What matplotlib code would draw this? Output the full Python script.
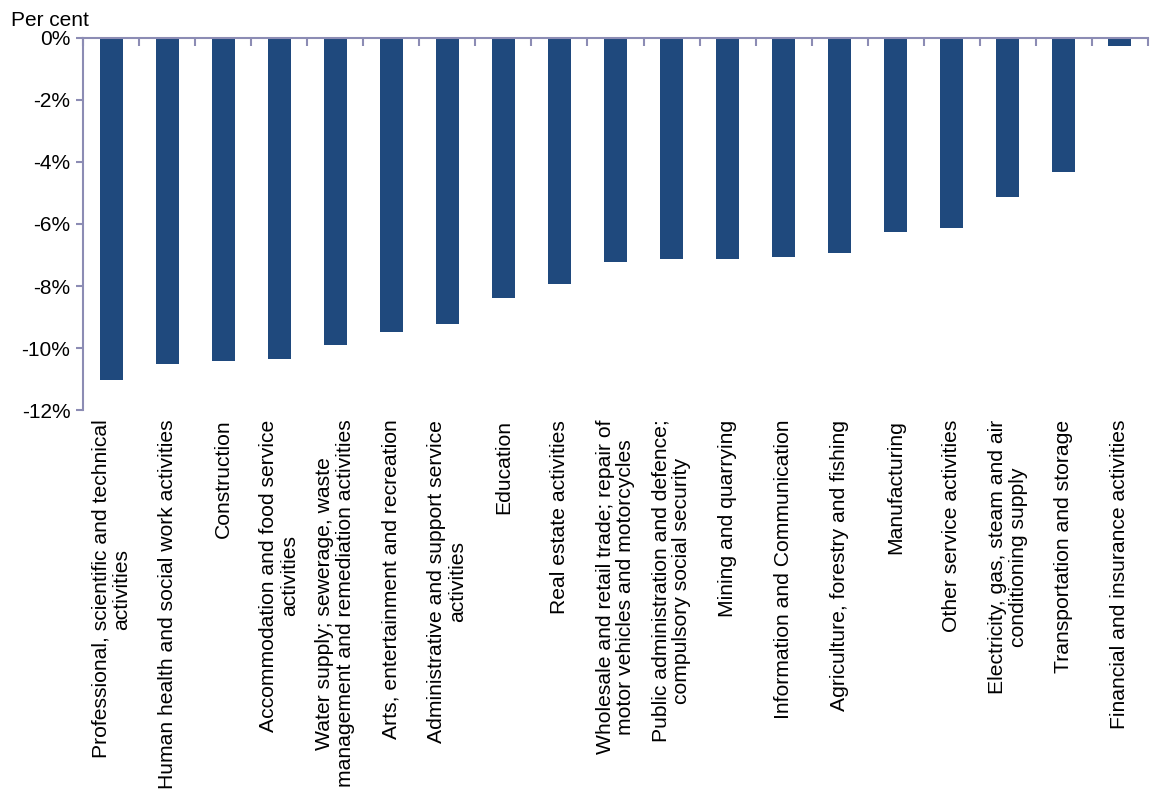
import matplotlib
matplotlib.use("Agg")
import matplotlib.pyplot as plt
import numpy as np

plt.rcParams['font.family'] = ['Liberation Sans', 'DejaVu Sans']

industries = [
    "Professional, scientific and technical\nactivities",
    "Human health and social work activities",
    "Construction",
    "Accommodation and food service\nactivities",
    "Water supply; sewerage, waste\nmanagement and remediation activities",
    "Arts, entertainment and recreation",
    "Administrative and support service\nactivities",
    "Education",
    "Real estate activities",
    "Wholesale and retail trade; repair of\nmotor vehicles and motorcycles",
    "Public administration and defence;\ncompulsory social security",
    "Mining and quarrying",
    "Information and Communication",
    "Agriculture, forestry and fishing",
    "Manufacturing",
    "Other service activities",
    "Electricity, gas, steam and air\nconditioning supply",
    "Transportation and storage",
    "Financial and insurance activities",
]
change = [-11.03, -10.5, -10.42, -10.35, -9.9, -9.48, -9.23, -8.39, -7.94,
          -7.23, -7.13, -7.13, -7.06, -6.94, -6.26, -6.13, -5.13, -4.32, -0.26]
yticks = [0, -2, -4, -6, -8, -10, -12]

bar_color = "#1F497D"
axis_color = "#8C8CB4"

fig = plt.figure(figsize=(11.51, 7.98), dpi=100)
ax = fig.add_axes([0.0721, 0.4862, 0.9253, 0.4662])

x = np.arange(len(industries))
ax.bar(x, change, width=0.41, color=bar_color, zorder=2)

ax.set_xlim(-0.5, len(industries) - 0.5)
ax.set_ylim(-12, 0)

for side in ["right", "bottom"]:
    ax.spines[side].set_visible(False)
for side in ["left", "top"]:
    ax.spines[side].set_color(axis_color)
    ax.spines[side].set_linewidth(1.5)

ax.set_yticks(yticks)
ax.set_yticklabels([f"{v}%" for v in yticks], fontsize=15)
ax.tick_params(axis="y", length=5, width=1.5, color=axis_color, pad=4)

ax.set_xticks(x)
ax.set_xticklabels(industries, rotation=90, fontsize=15.2, ha="center",
                   va="top", multialignment="center", linespacing=1.12)
ax.tick_params(axis="x", which="major", length=0, pad=7)
ax.set_xticks(np.arange(len(industries) + 1) - 0.5, minor=True)
ax.tick_params(axis="x", which="minor", top=True, bottom=False,
               direction="in", length=6, width=1.5, color=axis_color)

fig.text(0.0096, 0.962, "Per cent", fontsize=15, ha="left", va="bottom")

fig.savefig("out.png", dpi=100)
